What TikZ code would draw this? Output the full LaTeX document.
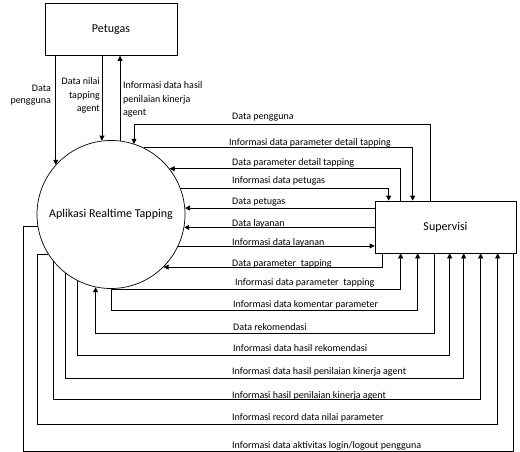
\documentclass[tikz,border=0pt]{standalone}
\usepackage{fontspec}
\setmainfont{Carlito}
\usetikzlibrary{arrows.meta}
\begin{document}
\begin{tikzpicture}[x=1pt,y=-1pt,
  flow/.style={line width=0.7pt},
  arr/.style={flow,-{Triangle[length=5pt,width=5pt]}},
  entity/.style={draw,line width=0.7pt,minimum width=132pt,minimum height=52pt,
    inner sep=0,font=\fontsize{12}{14}\selectfont},
  process/.style={draw,circle,line width=0.7pt,minimum size=148pt,inner sep=0,
    font=\fontsize{12}{14}\selectfont},
  lbl/.style={inner sep=0,anchor=base west,font=\fontsize{10}{12}\selectfont},
  side/.style={inner sep=0,font=\fontsize{10}{13.5}\selectfont}]
\fill[white] (0,0) rectangle (520,452);
\useasboundingbox (0,0) rectangle (520,452);

% entities and the process
\node[entity] (pet) at (111,29.5) {Petugas};
\node[process] (app) at (111,214.5) {Aplikasi Realtime Tapping};
\node[entity,minimum width=141pt] (sup) at (445.5,227) {Supervisi};

% flows between Petugas and the application
\draw[arr] (app.138 |- pet.south) -- (app.138);
\draw[arr] (app.97 |- pet.south) -- (app.97);
\draw[arr] (app.83) -- (app.83 |- pet.south);
\node[side,align=right,anchor=east,font=\fontsize{10}{11.5}\selectfont] (lpa) at (51,95) {Data\\pengguna};
\node[side,align=right,anchor=east] (lpb) at (100,95.5) {Data nilai\\tapping\\agent};
\node[side,align=left,anchor=west] (lpc) at (123,99.5) {Informasi data hasil\\penilaian kinerja\\agent};

% flows above and beside Supervisi
\draw[arr] ([xshift=56]sup.north west) |- (app.72.7 |- 0,124) -- (app.72.7);
\draw[arr] (app.64) -| ([xshift=38]sup.north west);
\draw[arr] ([xshift=26]sup.north west) |- (app.38.9);
\draw[arr] (app.21.8) -| ([xshift=14]sup.north west);
\draw[arr] (sup.west |- app.5.8) -- (app.5.8);
\draw[arr] (sup.west |- app.-10.5) -- (app.-10.5);
\draw[arr] (app.-25.2) -- (sup.west |- app.-25.2);

% flows below Supervisi
\draw[arr] ([xshift=8]sup.south west) |- (app.-45.2);
\draw[arr] (app.south) -| ([xshift=26]sup.south west);
\draw[arr] (app.south) -- (app.south |- 0,310) -| ([xshift=43]sup.south west);
\draw[arr] ([xshift=60]sup.south west) |- (app.-102.5 |- 0,333) -- (app.-102.5);
\draw[arr] (app.-117.4) -- (app.-117.4 |- 0,355) -| ([xshift=75]sup.south west);
\draw[arr] (app.-128.4) -- (app.-128.4 |- 0,378) -| ([xshift=89]sup.south west);
\draw[arr] (app.-141.6) -- (app.-141.6 |- 0,399) -| ([xshift=106]sup.south west);
\draw[arr] (app.212.3) -| (37,424) -| ([xshift=123]sup.south west);
\draw[flow] (app.189.7) -| (23,451) -| ([xshift=139]sup.south west);

% flow labels
\node[lbl] (f1) at (232,120) {Data pengguna};
\node[lbl] (f2) at (229,146) {Informasi data parameter detail tapping};
\node[lbl] (f3) at (232,165) {Data parameter detail tapping};
\node[lbl] (f4) at (232,183) {Informasi data petugas};
\node[lbl] (f5) at (232,204) {Data petugas};
\node[lbl] (f6) at (232,226) {Data layanan};
\node[lbl] (f7) at (232,245) {Informasi data layanan};
\node[lbl] (f8) at (232,266) {Data parameter\hspace{0.25em} tapping};
\node[lbl] (f9) at (235,285) {Informasi data parameter\hspace{0.25em} tapping};
\node[lbl] (f10) at (233,307) {Informasi data komentar parameter};
\node[lbl] (f11) at (233,330) {Data rekomendasi};
\node[lbl] (f12) at (233,351) {Informasi data hasil rekomendasi};
\node[lbl] (f13) at (232,374) {Informasi data hasil penilaian kinerja agent};
\node[lbl] (f14) at (232,398) {Informasi hasil penilaian kinerja agent};
\node[lbl] (f15) at (232,420) {Informasi record data nilai parameter};
\node[lbl] (f16) at (232,448) {Informasi data aktivitas login/logout pengguna};
\end{tikzpicture}
\end{document}
